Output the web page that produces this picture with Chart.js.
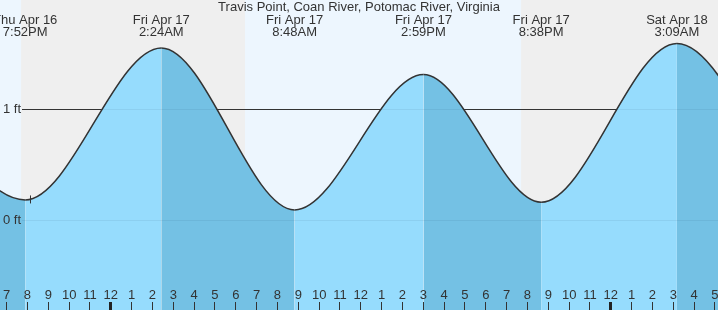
<!DOCTYPE html>
<html>
<head>
<meta charset="utf-8">
<script src="https://cdn.jsdelivr.net/npm/chart.js@4/dist/chart.umd.min.js"></script>
<style>
  body { margin: 0; background: #fff; }
  #wrap { width: 718px; height: 310px; position: relative; }
</style>
</head>
<body>
<div id="wrap"><canvas id="tideChart"></canvas></div>
<script>
// hours are counted from Fri Apr 17 00:00
const tideHours = [-10.4, -4.133, 2.4, 8.8, 14.983, 20.633, 27.15, 33.3];
const tideFeet = [1.38, 0.18, 1.55, 0.09, 1.31, 0.16, 1.59, -0.06];
const extremaHours = [-4.133, 2.4, 8.8, 14.983, 20.633, 27.15];
const extremaDays = ["Thu Apr 16", "Fri Apr 17", "Fri Apr 17", "Fri Apr 17", "Fri Apr 17", "Sat Apr 18"];
const extremaTimes = ["7:52PM", "2:24AM", "8:48AM", "2:59PM", "8:38PM", "3:09AM"];
const daylight = [[-20, -4.33], [6.42, 19.67]];
const hourTicks = [-5,-4,-3,-2,-1,0,1,2,3,4,5,6,7,8,9,10,11,12,13,14,15,16,17,18,19,20,21,22,23,24,25,26,27,28,29];
const hourLabels = ["7","8","9","10","11","12","1","2","3","4","5","6","7","8","9","10","11","12","1","2","3","4","5","6","7","8","9","10","11","12","1","2","3","4","5"];
const feetTicks = [0, 1];
const feetLabels = ["0 ft", "1 ft"];
const markerHour = -3.9;
const markerFeet = 0.185;
const title = "Travis Point, Coan River, Potomac River, Virginia";

const LIGHT = "rgb(150,220,253)";
const DARK = "rgb(116,193,228)";
const TEXT = "#333";
const FONT = "13px 'Liberation Sans', Arial, sans-serif";

function drawGrid(chart, color) {
    const {ctx, chartArea: a, scales: {y}} = chart;
    ctx.strokeStyle = color;
    ctx.lineWidth = 1;
    feetTicks.forEach(v => {
        const py = Math.round(y.getPixelForValue(v)) + 0.5;
        ctx.beginPath();
        ctx.moveTo(22, py);
        ctx.lineTo(a.right, py);
        ctx.stroke();
    });
}

// region above the tide curve, built from the line's own bezier points
function clipAboveCurve(chart) {
    const {ctx, chartArea: a} = chart;
    const pts = chart.getDatasetMeta(0).data;
    ctx.beginPath();
    ctx.moveTo(pts[0].x, pts[0].y);
    for (let i = 1; i < pts.length; i++) {
        const p = pts[i - 1], c = pts[i];
        ctx.bezierCurveTo(p.cp2x, p.cp2y, c.cp1x, c.cp1y, c.x, c.y);
    }
    ctx.lineTo(pts[pts.length - 1].x, a.top - 10);
    ctx.lineTo(pts[0].x, a.top - 10);
    ctx.closePath();
    ctx.clip();
}

const tidePlugin = {
    id: "tideDecor",
    beforeDatasetsDraw(chart) {
        const {ctx, chartArea: a, scales: {x}} = chart;
        ctx.save();
        ctx.fillStyle = "#efefef";
        ctx.fillRect(a.left, a.top, a.right - a.left, a.bottom - a.top);
        ctx.fillStyle = "#edf6fe";
        daylight.forEach(([s, e]) => {
            const x0 = Math.max(a.left, x.getPixelForValue(s));
            const x1 = Math.min(a.right, x.getPixelForValue(e));
            if (x1 > x0) ctx.fillRect(x0, a.top, x1 - x0, a.bottom - a.top);
        });
        ctx.restore();
    },
    afterDatasetsDraw(chart) {
        const {ctx, chartArea: a, scales: {x, y}} = chart;
        ctx.save();
        drawGrid(chart, "rgba(30,60,90,0.08)");
        ctx.restore();
        ctx.save();
        clipAboveCurve(chart);
        drawGrid(chart, "#333");
        ctx.restore();

        ctx.save();
        ctx.strokeStyle = "#333";
        ctx.fillStyle = TEXT;
        ctx.font = FONT;

        // small marker on the curve
        const mx = Math.round(x.getPixelForValue(markerHour)) + 0.5;
        const my = y.getPixelForValue(markerFeet);
        ctx.lineWidth = 1;
        ctx.beginPath();
        ctx.moveTo(mx, my - 4);
        ctx.lineTo(mx, my + 4);
        ctx.stroke();

        // hour ticks along the bottom
        ctx.textAlign = "center";
        ctx.textBaseline = "middle";
        hourTicks.forEach((h, i) => {
            const px = x.getPixelForValue(h) - 1;
            const midnight = h % 24 === 0;
            ctx.fillStyle = midnight ? "#222" : "#333";
            ctx.fillRect(Math.round(px) - (midnight ? 1 : 0), 302, midnight ? 3 : 1, 8);
            ctx.fillStyle = TEXT;
            ctx.fillText(hourLabels[i], px + 0.5, 295);
        });

        // feet labels
        ctx.textAlign = "left";
        feetTicks.forEach((v, i) => {
            ctx.fillText(feetLabels[i], 3, y.getPixelForValue(v));
        });

        // high / low labels
        ctx.textAlign = "center";
        extremaHours.forEach((h, i) => {
            const px = x.getPixelForValue(h);
            ctx.fillText(extremaDays[i], px, 20);
            ctx.fillText(extremaTimes[i], px, 32);
        });

        ctx.fillText(title, (a.left + a.right) / 2, 7);
        ctx.restore();
    }
};

new Chart(document.getElementById("tideChart"), {
    type: "line",
    data: {
        datasets: [{
            data: tideHours.map((h, i) => ({x: h, y: tideFeet[i]})),
            borderColor: "#333",
            borderWidth: 1.5,
            pointRadius: 0,
            fill: "start",
            backgroundColor: LIGHT,
            cubicInterpolationMode: "monotone",
            segment: {
                backgroundColor: c => c.p1.parsed.y < c.p0.parsed.y ? DARK : LIGHT
            }
        }]
    },
    options: {
        responsive: true,
        maintainAspectRatio: false,
        animation: false,
        layout: {padding: 0},
        plugins: {legend: {display: false}, tooltip: {enabled: false}, title: {display: false}},
        scales: {
            x: {type: "linear", display: false, min: -5.342, max: 29.122},
            y: {type: "linear", display: false, min: -0.811, max: 1.982}
        }
    },
    plugins: [tidePlugin]
});
</script>
</body>
</html>
